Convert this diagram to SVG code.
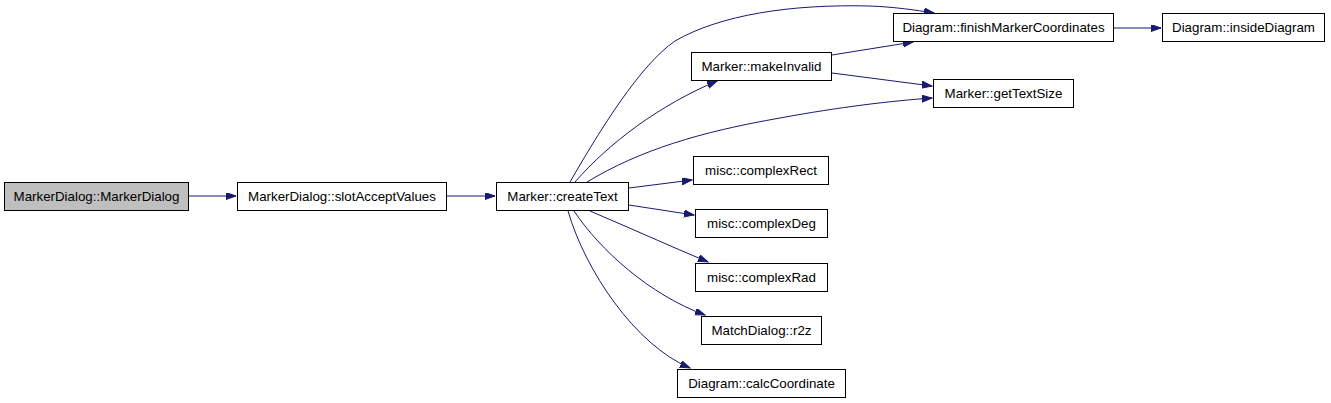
<svg xmlns="http://www.w3.org/2000/svg" width="1331" height="403" viewBox="0 0 1331 403">
<style>
.n rect{fill:#fff;stroke:#000;stroke-width:1}
.n text{font-family:"Liberation Sans",Arial,sans-serif;font-size:13.33px;text-anchor:middle;fill:#000}
#edges path{fill:none;stroke:#191970;stroke-width:1}
</style>
<defs>
<marker id="ah" markerWidth="12" markerHeight="9" refX="10" refY="3.5" orient="auto" markerUnits="userSpaceOnUse"><path d="M0,0 L10,3.5 L0,7 Z" fill="#191970" stroke="#191970" stroke-width="1"/></marker>
</defs>
<rect width="1331" height="403" fill="#fff"/>
<g id="edges">
<path d="M189,196 L236,196" marker-end="url(#ah)"/>
<path d="M447,196 L495,196" marker-end="url(#ah)"/>
<path d="M1114,28 L1161,28" marker-end="url(#ah)"/>
<path d="M570,182 C600,130 640,65 675,41 C720,15 790,4 870,6 C895,7 915,10 934,13" marker-end="url(#ah)"/>
<path d="M575,182 C610,142 660,105 717,81" marker-end="url(#ah)"/>
<path d="M587,182 C640,150 700,132 780,118 C840,107 890,101 932,98" marker-end="url(#ah)"/>
<path d="M832,55 L913,42" marker-end="url(#ah)"/>
<path d="M832,73 L932,86" marker-end="url(#ah)"/>
<path d="M629,188 L692,180" marker-end="url(#ah)"/>
<path d="M629,205 L694,215" marker-end="url(#ah)"/>
<path d="M590,211 C630,228 670,246 708,262" marker-end="url(#ah)"/>
<path d="M574,211 C600,250 650,295 705,315" marker-end="url(#ah)"/>
<path d="M568,211 C585,270 635,345 690,368" marker-end="url(#ah)"/>
</g>
<g id="n0" class="n"><rect x="4.5" y="182.5" width="184" height="28" style="fill:#bfbfbf"/><text x="96.5" y="201">MarkerDialog::MarkerDialog</text></g>
<g id="n1" class="n"><rect x="237.5" y="182.5" width="209" height="28"/><text x="342" y="201">MarkerDialog::slotAcceptValues</text></g>
<g id="n2" class="n"><rect x="496.5" y="182.5" width="132" height="28"/><text x="562.5" y="201">Marker::createText</text></g>
<g id="n3" class="n"><rect x="893.5" y="13.5" width="220" height="28"/><text x="1003.5" y="32">Diagram::finishMarkerCoordinates</text></g>
<g id="n4" class="n"><rect x="1162.5" y="13.5" width="162" height="28"/><text x="1243.5" y="32">Diagram::insideDiagram</text></g>
<g id="n5" class="n"><rect x="691.5" y="52.5" width="140" height="28"/><text x="761.5" y="71">Marker::makeInvalid</text></g>
<g id="n6" class="n"><rect x="933.5" y="79.5" width="140" height="28"/><text x="1003.5" y="98">Marker::getTextSize</text></g>
<g id="n7" class="n"><rect x="693.5" y="156.5" width="135" height="28"/><text x="761" y="175">misc::complexRect</text></g>
<g id="n8" class="n"><rect x="695.5" y="209.5" width="132" height="28"/><text x="761.5" y="228">misc::complexDeg</text></g>
<g id="n9" class="n"><rect x="695.5" y="263.5" width="132" height="28"/><text x="761.5" y="282">misc::complexRad</text></g>
<g id="n10" class="n"><rect x="701.5" y="316.5" width="120" height="28"/><text x="761.5" y="335">MatchDialog::r2z</text></g>
<g id="n11" class="n"><rect x="677.5" y="369.5" width="168" height="28"/><text x="761.5" y="388">Diagram::calcCoordinate</text></g>
</svg>
